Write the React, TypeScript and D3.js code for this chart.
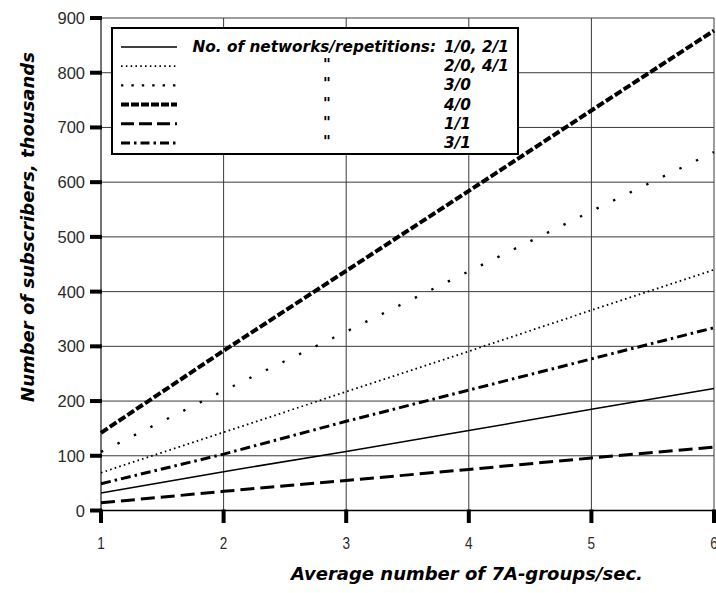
import React from "react";
import * as d3 from "d3";

const xValues = [1, 2, 3, 4, 5, 6];
const yTicks = [0, 100, 200, 300, 400, 500, 600, 700, 800, 900];

const seriesLabels = ["1/0, 2/1", "2/0, 4/1", "3/0", "4/0", "1/1", "3/1"];
const values_1_0 = [32, 71, 108, 146, 185, 223];
const values_2_0 = [69, 143, 217, 291, 366, 440];
const values_3_0 = [107, 219, 327, 437, 547, 655];
const values_4_0 = [142, 292, 438, 584, 731, 877];
const values_1_1 = [14, 35, 55, 75, 96, 116];
const values_3_1 = [49, 103, 163, 220, 277, 334];

const legendTitle = "No. of networks/repetitions:";
const xTitle = "Average number of 7A-groups/sec.";
const yTitle = "Number of subscribers, thousands";

const seriesValues = [values_1_0, values_2_0, values_3_0, values_4_0, values_1_1, values_3_1];

const styles = [
  { w: 1.5, dash: "", ldash: "" },
  { w: 1.8, dash: "1.6,3.2", ldash: "1.6,3.2" },
  { w: 2.4, dash: "2.4,16", ldash: "2.4,8" },
  { w: 4, dash: "8,2.6", ldash: "8,2" },
  { w: 3, dash: "14,6", ldash: "13,5" },
  { w: 3, dash: "10,4,2.5,4", ldash: "9,4,2.5,4" },
];

export default function App() {
  const width = 716;
  const height = 593;
  const x = d3.scaleLinear().domain([1, 6]).range([101, 714]);
  const y = d3.scaleLinear().domain([0, 900]).range([510.5, 18]);
  const line = d3
    .line<number>()
    .x((_, i) => x(xValues[i]))
    .y((d) => y(d));

  const bold = "'DejaVu Sans', 'Liberation Sans', Arial, sans-serif";
  const tickFont = "'Liberation Sans', Arial, sans-serif";

  const legX0 = 112;
  const legY0 = 28;
  const rowY = (i: number) => 47 + i * 19.2;

  return (
    <svg
      width={width}
      height={height}
      style={{ position: "absolute", left: 0, top: 0, background: "#fff" }}
    >
      <rect x={0} y={0} width={width} height={height} fill="#fff" />
      {yTicks.map((t) => (
        <line key={"gy" + t} x1={x(1)} x2={x(6)} y1={y(t)} y2={y(t)} stroke="#3a3a3a" strokeWidth={1} />
      ))}
      {xValues.map((t) => (
        <line key={"gx" + t} x1={x(t)} x2={x(t)} y1={y(0)} y2={y(900)} stroke="#3a3a3a" strokeWidth={1} />
      ))}
      <line x1={x(1)} x2={x(1)} y1={y(0)} y2={y(900)} stroke="#666" strokeWidth={1.5} />
      <line x1={x(1)} x2={x(6)} y1={y(0)} y2={y(0)} stroke="#000" strokeWidth={1.5} />
      {yTicks.map((t) => (
        <g key={"yt" + t}>
          <line x1={90} x2={x(1) + 1} y1={y(t)} y2={y(t)} stroke="#000" strokeWidth={4} />
          <text
            x={85}
            y={y(t)}
            textAnchor="end"
            dominantBaseline="central"
            fontFamily={tickFont}
            fontSize={16.5}
            fill="#2a2a2a"
          >
            {t}
          </text>
        </g>
      ))}
      {xValues.map((t) => (
        <g key={"xt" + t}>
          <line x1={x(t)} x2={x(t)} y1={y(0) - 1} y2={523} stroke="#000" strokeWidth={4} />
          <text
            x={x(t)}
            y={543}
            textAnchor="middle"
            dominantBaseline="central"
            fontFamily={tickFont}
            fontSize={17}
            fill="#2a2a2a"
            transform={`translate(${x(t)},0) scale(0.8,1) translate(${-x(t)},0)`}
          >
            {t}
          </text>
        </g>
      ))}
      {seriesValues.map((vals, i) => (
        <path
          key={"s" + i}
          d={line(vals) || ""}
          fill="none"
          stroke="#000"
          strokeWidth={styles[i].w}
          strokeDasharray={styles[i].ldash === "" ? undefined : styles[i].dash}
        />
      ))}
      <rect x={legX0} y={legY0} width={406} height={126} fill="#fff" stroke="#000" strokeWidth={2} />
      {seriesLabels.map((lab, i) => (
        <g key={"l" + i}>
          <line
            x1={121}
            x2={177}
            y1={rowY(i)}
            y2={rowY(i)}
            stroke="#000"
            strokeWidth={styles[i].w}
            strokeDasharray={styles[i].ldash || undefined}
          />
          {i === 0 ? (
            <text
              x={436}
              y={rowY(i)}
              textAnchor="end"
              dominantBaseline="central"
              fontFamily={bold}
              fontWeight="bold"
              fontStyle="italic"
              fontSize={15.3}
            >
              {legendTitle}
            </text>
          ) : (
            <text
              x={327}
              y={rowY(i) - 1}
              textAnchor="middle"
              dominantBaseline="central"
              fontFamily={bold}
              fontWeight="bold"
              fontStyle="italic"
              fontSize={15}
            >
              {'"'}
            </text>
          )}
          <text
            x={444}
            y={rowY(i)}
            dominantBaseline="central"
            fontFamily={bold}
            fontWeight="bold"
            fontStyle="italic"
            fontSize={15.3}
          >
            {lab}
          </text>
        </g>
      ))}
      <text
        x={467}
        y={573}
        textAnchor="middle"
        dominantBaseline="central"
        fontFamily={bold}
        fontWeight="bold"
        fontStyle="italic"
        fontSize={18}
      >
        {xTitle}
      </text>
      <text
        transform={`translate(27,227) rotate(-90)`}
        textAnchor="middle"
        dominantBaseline="central"
        fontFamily={bold}
        fontWeight="bold"
        fontStyle="italic"
        fontSize={18}
      >
        {yTitle}
      </text>
    </svg>
  );
}
